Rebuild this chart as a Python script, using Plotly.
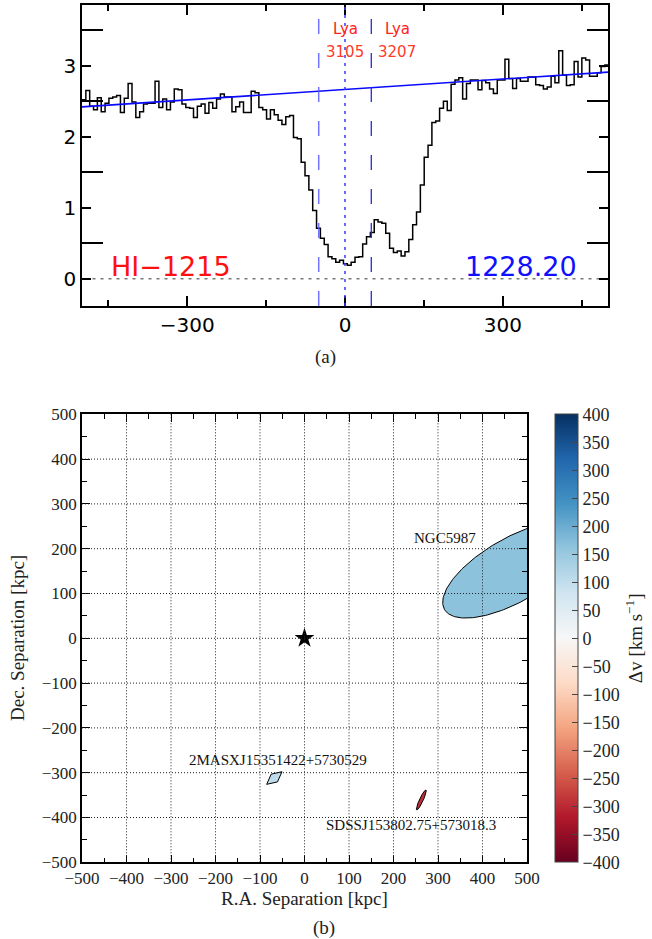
import numpy as np
import plotly.graph_objects as go
from plotly.colors import sample_colorscale

FIG_W, FIG_H = 652, 939

# ---------------- Panel (a): HI 1215 spectrum ----------------
VEL_START = -500.0      # km/s, left edge of first bin
VEL_STEP = 7.31         # km/s bin width
FLUX = [
    2.52, 2.65, 2.43, 2.38, 2.55, 2.35, 2.47, 2.54, 2.56, 2.58,
    2.34, 2.54, 2.75, 2.49, 2.27, 2.35, 2.46, 2.47, 2.47, 2.78,
    2.41, 2.53, 2.38, 2.49, 2.67, 2.66, 2.46, 2.41, 2.40, 2.27,
    2.43, 2.46, 2.33, 2.48, 2.40, 2.53, 2.60, 2.56, 2.56, 2.35,
    2.42, 2.49, 2.34, 2.34, 2.64, 2.62, 2.41, 2.38, 2.25, 2.38,
    2.31, 2.23, 2.17, 2.28, 2.30,
    1.99, 1.97, 1.64, 1.45,
    1.25, 0.96, 0.71, 0.57, 0.48, 0.31, 0.28, 0.23, 0.26, 0.21,
    0.19, 0.23, 0.30, 0.31, 0.49, 0.59, 0.65, 0.83, 0.80, 0.78,
    0.64, 0.43, 0.37, 0.39, 0.32, 0.38, 0.55, 0.76, 0.94, 1.32,
    1.71, 1.88, 2.20, 2.22, 2.40, 2.50, 2.37,
    2.74, 2.80, 2.83, 2.53, 2.75, 2.80, 2.80, 2.66, 2.79, 2.76,
    2.67, 2.61, 2.80, 2.80, 3.09, 2.82, 2.68, 2.82, 2.78, 2.78,
    2.84, 2.84, 2.73, 2.72, 2.67, 2.70, 2.85, 2.76, 3.21, 2.87,
    2.72, 2.73, 3.06, 2.84, 3.11, 3.08, 2.85, 2.85, 2.90, 2.99, 3.01,
]
CONT_VEL = [-500, 500]
CONT_FLUX = [2.42, 2.91]
ZERO_VEL = [-480, 490]
COMP_VEL = [-50, 0, 50]
LYA_LABEL_VEL = [0, 99]
LYA_LABEL_IDS = ["3105", "3207"]
ION_LABEL = "HI\u22121215"
WAVE_LABEL = "1228.20"

# ---------------- Panel (b): galaxy map ----------------
GAL_NAMES = ["NGC5987", "2MASXJ15351422+5730529", "SDSSJ153802.75+573018.3"]
GAL_X = [470.0, -67.8, 262.5]        # kpc
GAL_Y = [153.0, -311.9, -361.0]      # kpc
GAL_A = [179.0, 22.2, 24.6]          # semi-major, kpc
GAL_B = [71.0, 11.2, 4.2]            # semi-minor, kpc
GAL_PA = [29.6, 39.3, 64.8]          # deg
GAL_NVERT = [240, 4, 120]
GAL_DV = [165.0, 105.0, -295.0]      # km/s
LABEL_X = [390.0, -59.0, 239.0]
LABEL_Y = [225.0, -272.0, -417.0]
LABEL_ANCHOR = ["right", "center", "center"]

RDBU = [[0.0, "rgb(103,0,31)"], [0.1, "rgb(178,24,43)"], [0.2, "rgb(214,96,77)"],
        [0.3, "rgb(244,165,130)"], [0.4, "rgb(253,219,199)"], [0.5, "rgb(247,247,247)"],
        [0.6, "rgb(209,229,240)"], [0.7, "rgb(146,197,222)"], [0.8, "rgb(67,147,195)"],
        [0.9, "rgb(33,102,172)"], [1.0, "rgb(5,48,97)"]]
DV_MIN, DV_MAX = -400, 400
CB_TICKS = list(range(-400, 401, 50))
MAP_TICKS = list(range(-500, 501, 100))

# ---------------- figure ----------------
fig = go.Figure()

edges = VEL_START + VEL_STEP * np.arange(len(FLUX) + 1)
fy = list(FLUX) + [FLUX[-1]]
fig.add_trace(go.Scatter(x=edges, y=fy, mode="lines", xaxis="x", yaxis="y",
                         line=dict(color="black", width=1.5, shape="hv"), showlegend=False))
fig.add_trace(go.Scatter(x=CONT_VEL, y=CONT_FLUX, mode="lines", xaxis="x", yaxis="y",
                         line=dict(color="#0a0aff", width=1.6), showlegend=False))
fig.add_trace(go.Scatter(x=ZERO_VEL, y=[0, 0], mode="lines", xaxis="x", yaxis="y",
                         line=dict(color="#777777", width=1.5, dash="3px,5px"), showlegend=False))

shapes = []
comp_styles = [dict(color="rgba(90,90,255,0.85)", width=1.5, dash="15px,19px"),
               dict(color="#3a3aff", width=1.5, dash="3px,5px"),
               dict(color="#2a2ae0", width=1.3, dash="15px,19px")]
for v, st in zip(COMP_VEL, comp_styles):
    shapes.append(dict(type="line", xref="x", yref="y domain", x0=v, x1=v, y0=0, y1=1,
                       line=st, layer="above"))

annotations = []
red = "#ff2020"
for v, lab in zip(LYA_LABEL_VEL, LYA_LABEL_IDS):
    annotations.append(dict(x=v, y=3.52, xref="x", yref="y", text="Lya", showarrow=False,
                            font=dict(family="DejaVu Sans", size=15, color=red)))
    annotations.append(dict(x=v, y=3.19, xref="x", yref="y", text=lab, showarrow=False,
                            font=dict(family="DejaVu Sans", size=15, color="#ff3a2a")))
annotations.append(dict(x=-331, y=0.165, xref="x", yref="y", text=ION_LABEL, showarrow=False,
                        font=dict(family="DejaVu Sans", size=27, color="#ff1010")))
annotations.append(dict(x=335, y=0.165, xref="x", yref="y", text=WAVE_LABEL, showarrow=False,
                        font=dict(family="DejaVu Sans", size=27, color="#1010ff")))

# galaxies
for i in range(len(GAL_NAMES)):
    t = np.linspace(0, 2 * np.pi, GAL_NVERT[i] + 1)
    pa = np.deg2rad(GAL_PA[i])
    u = GAL_A[i] * np.cos(t)
    w = GAL_B[i] * np.sin(t)
    ex = GAL_X[i] + u * np.cos(pa) - w * np.sin(pa)
    ey = GAL_Y[i] + u * np.sin(pa) + w * np.cos(pa)
    col = sample_colorscale(RDBU, [(GAL_DV[i] - DV_MIN) / (DV_MAX - DV_MIN)])[0]
    fig.add_trace(go.Scatter(x=ex, y=ey, mode="lines", fill="toself", fillcolor=col,
                             line=dict(color="black", width=1), xaxis="x2", yaxis="y2",
                             showlegend=False, hoverinfo="skip"))
    annotations.append(dict(x=LABEL_X[i], y=LABEL_Y[i], xref="x2", yref="y2", text=GAL_NAMES[i],
                            showarrow=False, xanchor=LABEL_ANCHOR[i], yanchor="middle",
                            font=dict(family="Liberation Serif", size=15, color="#111111")))

fig.add_trace(go.Scatter(x=[0], y=[0], mode="markers", xaxis="x2", yaxis="y2",
                         marker=dict(symbol="star", size=15, color="black"), showlegend=False))

# colorbar carrier
fig.add_trace(go.Scatter(x=[-9999], y=[-9999], mode="markers", xaxis="x2", yaxis="y2",
                         showlegend=False, hoverinfo="skip",
                         marker=dict(color=[0], cmin=DV_MIN, cmax=DV_MAX, colorscale=RDBU,
                                     showscale=True, size=1,
                                     colorbar=dict(xref="container", yref="container",
                                                   x=555 / FIG_W, xanchor="left", xpad=0, ypad=0,
                                                   y=1 - 638.3 / FIG_H, yanchor="middle",
                                                   len=448 / FIG_H, lenmode="fraction",
                                                   thickness=23, thicknessmode="pixels",
                                                   outlinewidth=1, outlinecolor="#444444",
                                                   tickmode="array", tickvals=CB_TICKS,
                                                   ticks="inside", ticklen=6, tickcolor="#444444",
                                                   tickfont=dict(family="Liberation Serif", size=18, color="#222222"),
                                                   title=dict(text="\u0394v [km s<sup>\u22121</sup>]", side="right",
                                                              font=dict(family="Liberation Serif", size=19, color="#222222"))))))

# dotted grid above traces (as in reference)
for tv in MAP_TICKS[1:-1]:
    shapes.append(dict(type="line", xref="x2", yref="y2 domain", x0=tv, x1=tv, y0=0, y1=1,
                       line=dict(color="#222222", width=1, dash="1px,2px"), layer="above"))
    shapes.append(dict(type="line", xref="x2 domain", yref="y2", x0=0, x1=1, y0=tv, y1=tv,
                       line=dict(color="#222222", width=1, dash="1px,2px"), layer="above"))

serif = dict(family="Liberation Serif", size=19, color="#222222")
annotations += [
    dict(x=304.5 / FIG_W, y=1 - 898 / FIG_H, xref="paper", yref="paper", showarrow=False,
         xanchor="center", yanchor="middle", text="R.A. Separation [kpc]", font=serif),
    dict(x=17 / FIG_W, y=1 - 638 / FIG_H, xref="paper", yref="paper", showarrow=False,
         xanchor="center", yanchor="middle", text="Dec. Separation [kpc]", textangle=-90, font=serif),
    dict(x=325 / FIG_W, y=1 - 357 / FIG_H, xref="paper", yref="paper", showarrow=False,
         xanchor="center", yanchor="middle", text="(a)", font=serif),
    dict(x=324 / FIG_W, y=1 - 928 / FIG_H, xref="paper", yref="paper", showarrow=False,
         xanchor="center", yanchor="middle", text="(b)", font=serif),
]

ax_common = dict(showline=True, linecolor="black", linewidth=1.5, mirror="ticks",
                 ticks="inside", tickcolor="black", showgrid=False, zeroline=False,
                 automargin=False)

fig.update_layout(
    width=FIG_W, height=FIG_H, margin=dict(l=0, r=0, t=0, b=0, autoexpand=False),
    paper_bgcolor="white", plot_bgcolor="white", showlegend=False,
    shapes=shapes, annotations=annotations,
    xaxis=dict(domain=[82 / FIG_W, 608 / FIG_W], anchor="y", range=[-500, 500],
               tickmode="array", tickvals=[-300, 0, 300], ticklen=10, tickwidth=1.5,
               minor=dict(tickvals=[-450, -150, 150, 450], ticks="inside", ticklen=6,
                          tickwidth=1.5, tickcolor="black"),
               tickfont=dict(family="DejaVu Sans", size=20, color="black"), **ax_common),
    yaxis=dict(domain=[1 - 306 / FIG_H, 1 - 5 / FIG_H], anchor="x", range=[-0.385, 3.855],
               tickmode="array", tickvals=[0, 1, 2, 3], ticklen=9, tickwidth=1.5,
               minor=dict(tickvals=[0.5, 1.5, 2.5, 3.5], ticks="inside", ticklen=21,
                          tickwidth=1.5, tickcolor="black"),
               tickfont=dict(family="DejaVu Sans", size=20, color="black"), **ax_common),
    xaxis2=dict(domain=[82 / FIG_W, 527 / FIG_W], anchor="y2", range=[-500, 500],
                tickmode="array", tickvals=MAP_TICKS, ticklen=8, tickwidth=1,
                minor=dict(dtick=50, tick0=0, ticks="inside", ticklen=5, tickwidth=1,
                           tickcolor="black"),
                tickfont=dict(family="Liberation Serif", size=17, color="#222222"), **ax_common),
    yaxis2=dict(domain=[1 - 862.3 / FIG_H, 1 - 414.3 / FIG_H], anchor="x2", range=[-500, 500],
                tickmode="array", tickvals=MAP_TICKS, ticklen=8, tickwidth=1,
                minor=dict(dtick=50, tick0=0, ticks="inside", ticklen=5, tickwidth=1,
                           tickcolor="black"),
                tickfont=dict(family="Liberation Serif", size=17, color="#222222"), **ax_common),
)

fig.write_html("out.html")
